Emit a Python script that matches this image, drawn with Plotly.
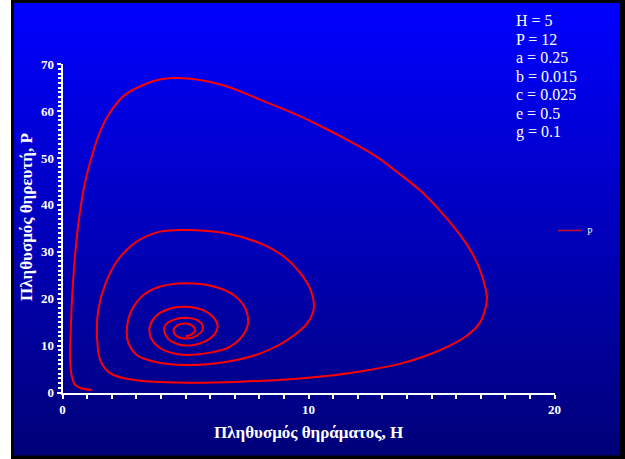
import plotly.graph_objects as go

# Phase-plane trajectory of the predator-prey model (prey H, predator P)
prey_H = [
    5.00, 5.25, 5.39, 5.28, 5.00, 4.70, 4.51, 4.62,
    5.00, 5.45, 5.71, 5.55, 5.00, 4.50, 4.18, 4.13, 4.28, 4.58,
    5.00, 5.75, 6.15, 6.30, 6.12, 5.70, 5.00, 4.30, 3.80, 3.55, 3.58, 3.90, 4.40,
    5.00, 6.00, 6.82, 7.29, 7.54, 7.43, 6.95, 6.14, 5.00, 3.97, 3.29, 2.81, 2.62, 2.66, 3.02, 3.70,
    5.00, 6.68, 8.04, 9.13, 9.94, 10.21, 10.08, 9.67, 8.99, 8.04, 6.68, 5.00, 3.97, 3.02, 2.25,
    1.75, 1.45, 1.40, 1.55, 2.00, 3.00,
    5.00, 7.2, 9.4, 10.5, 12.1, 13.7, 14.8, 15.7, 16.4, 16.9, 17.15, 17.25, 17.1, 16.9,
    16.5, 15.95, 15.3, 14.55, 13.6, 12.7, 11.7, 10.6, 9.4, 8.0, 6.6, 5.2, 4.0, 3.2, 2.5, 1.9,
    1.5, 1.18, 0.88, 0.68, 0.52, 0.40, 0.33, 0.31, 0.36, 0.50, 0.75, 1.20,
]
predator_P = [
    12.0, 12.4, 13.3, 14.2, 14.7, 14.4, 13.3, 12.1,
    11.5, 12.1, 13.7, 15.2, 15.95, 15.5, 14.4, 13.2, 11.5, 10.5,
    10.0, 10.8, 12.3, 14.2, 16.1, 17.6, 18.3, 17.8, 16.3, 14.2, 11.8, 9.7, 8.5,
    8.0, 8.5, 9.8, 11.9, 14.75, 17.9, 20.8, 22.6, 23.3, 22.6, 20.8, 17.6, 14.0, 10.8, 8.0, 6.6,
    5.86, 6.57, 8.35, 11.2, 14.75, 17.9, 21.9, 25.4, 29.0, 31.8, 33.9, 34.65, 34.3, 32.2, 28.3,
    23.3, 17.6, 11.9, 6.6, 3.9, 2.6,
    2.1, 2.3, 2.9, 3.4, 4.5, 6.1, 7.9, 9.9, 12.0, 14.4, 17.2, 20.2, 24.0, 27.0,
    31.0, 35.0, 39.0, 43.0, 47.0, 50.5, 53.5, 56.5, 59.5, 62.5, 65.4, 66.9, 66.8, 65.4, 63.3, 59.5,
    55.3, 50.2, 44.0, 37.5, 30.0, 21.5, 13.0, 7.0, 3.8, 1.7, 0.9, 0.55,
]

x_ticks = [0, 10, 20]
y_ticks = [0, 10, 20, 30, 40, 50, 60, 70]
param_labels = ["H = 5", "P = 12", "a = 0.25", "b = 0.015", "c = 0.025", "e = 0.5", "g = 0.1"]
series_name = "P"
x_title = "Πληθυσμός θηράματος, H"
y_title = "Πληθυσμός θηρευτή, P"

W, HGT = 625, 459
SERIF = "Liberation Serif"


def fx(px):
    return px / W


def fy(py):
    return 1 - py / HGT


fig = go.Figure()
fig.add_trace(go.Scatter(
    x=prey_H, y=predator_P, mode="lines", name=series_name,
    line=dict(color="#ff0000", width=2, shape="spline", smoothing=1.0),
    showlegend=False, hoverinfo="skip",
))

shapes = []
# black frame
shapes.append(dict(type="rect", xref="paper", yref="paper", layer="below",
                   x0=fx(11), x1=fx(625), y0=fy(459), y1=fy(0),
                   fillcolor="#000000", line=dict(width=0)))
# vertical blue gradient background
top, bot = 3, 455
n = 113
step = (bot - top) / n
for i in range(n):
    t = (i + 0.5) / n
    b = round(255 - t * (255 - 120))
    shapes.append(dict(type="rect", xref="paper", yref="paper", layer="below",
                       x0=fx(14), x1=fx(620),
                       y0=fy(top + (i + 1) * step + 0.5), y1=fy(top + i * step),
                       fillcolor=f"rgb(0,0,{b})", line=dict(width=0)))
# legend sample line
shapes.append(dict(type="line", xref="paper", yref="paper",
                   x0=fx(558), x1=fx(582), y0=fy(230.5), y1=fy(230.5),
                   line=dict(color="#c8102e", width=1.5)))

annotations = []
for k, lab in enumerate(param_labels):
    annotations.append(dict(
        text=lab, xref="paper", yref="paper", x=fx(514), y=fy(21 + k * 18.45),
        xanchor="left", yanchor="middle", showarrow=False,
        font=dict(family=SERIF, size=16, color="white"),
    ))
annotations.append(dict(
    text=series_name, xref="paper", yref="paper", x=fx(585), y=fy(231),
    xanchor="left", yanchor="middle", showarrow=False,
    font=dict(family=SERIF, size=10, color="#e8e8f0"),
))
annotations.append(dict(
    text=f"<b>{x_title}</b>", xref="paper", yref="paper", x=fx(308), y=fy(432),
    xanchor="center", yanchor="middle", showarrow=False,
    font=dict(family=SERIF, size=17, color="white"),
))
annotations.append(dict(
    text=f"<b>{y_title}</b>", xref="paper", yref="paper", x=fx(26), y=fy(217),
    xanchor="center", yanchor="middle", showarrow=False, textangle=-90,
    font=dict(family=SERIF, size=17, color="white"),
))

axis_common = dict(
    showgrid=False, zeroline=False, showline=True, linecolor="white", linewidth=2,
    ticks="outside", ticklen=4, tickwidth=1.5, tickcolor="white",
    tickfont=dict(family=SERIF, size=13, color="white", weight="bold"),
    fixedrange=True, automargin=False,
)

fig.update_layout(
    width=W, height=HGT, margin=dict(l=0, r=0, t=0, b=0, pad=0, autoexpand=False),
    paper_bgcolor="white", plot_bgcolor="rgba(0,0,0,0)",
    shapes=shapes, annotations=annotations, showlegend=False,
    xaxis=dict(range=[0, 20], domain=[fx(62.6), fx(554.6)],
               tickmode="array", tickvals=x_ticks,
               minor=dict(dtick=1, ticks="outside", ticklen=4, tickwidth=1.5, tickcolor="white"),
               **axis_common),
    yaxis=dict(range=[0, 70], domain=[fy(392.5), fy(64.2)],
               tickmode="array", tickvals=y_ticks,
               minor=dict(dtick=1, ticks="outside", ticklen=3, tickwidth=1.5, tickcolor="white"),
               **axis_common),
)

fig.write_html("out.html")
